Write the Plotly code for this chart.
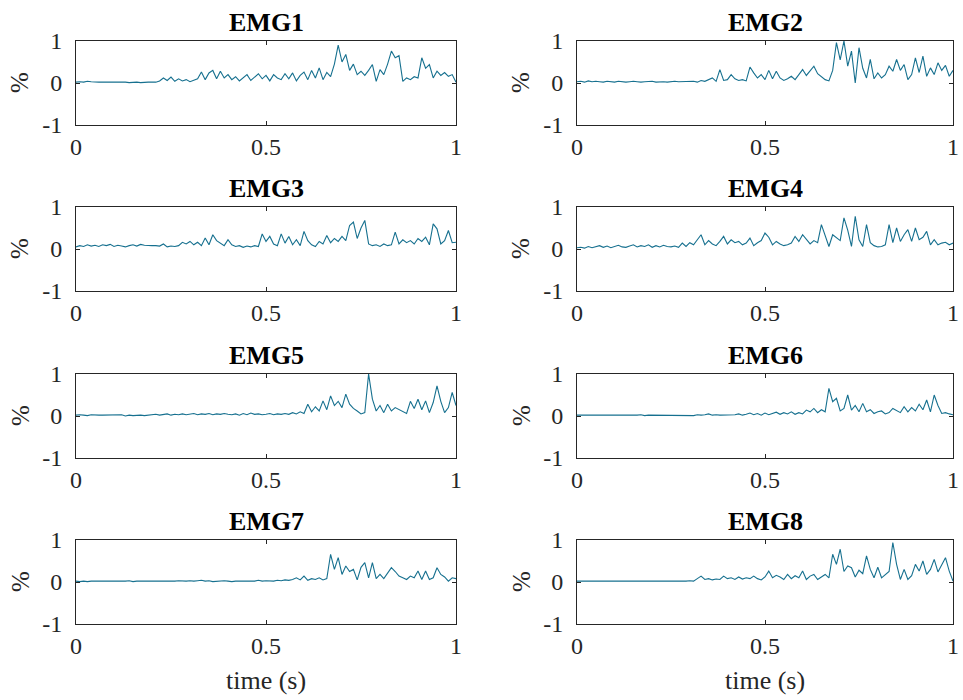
import numpy as np
import plotly.graph_objects as go

titles = ["EMG1", "EMG2", "EMG3", "EMG4", "EMG5", "EMG6", "EMG7", "EMG8"]
x_tick_vals = [0, 0.5, 1]
x_tick_text = ["0", "0.5", "1"]
y_tick_vals = [-1, 0, 1]
y_tick_text = ["-1", "0", "1"]

emg1 = [0.02,0.03,0.02,0.04,0.03,0.02,0.02,0.02,0.02,0.02,
        0.02,0.02,0.03,0.02,0.01,0.02,0.02,0.01,0.02,0.02,0.02,0.02,
        0.05,0.12,0.06,0.14,0.04,0.10,0.05,0.08,0.03,0.06,
        0.10,0.26,0.08,0.24,0.30,0.10,0.28,0.12,0.20,0.08,0.15,0.05,0.12,0.20,0.06,0.15,
        0.22,0.10,0.18,0.05,0.20,0.12,0.08,0.22,0.10,0.24,0.05,0.18,0.26,0.08,0.30,0.12,
        0.36,0.08,0.25,0.15,0.45,0.90,0.50,0.68,0.30,0.45,
        0.20,0.28,0.18,0.30,0.44,0.04,0.32,0.20,0.45,0.76,
        0.60,0.65,0.04,0.12,0.08,0.15,0.12,0.60,0.35,0.44,
        0.12,0.28,0.18,0.25,0.16,0.20,0.02]

emg2 = [0.03,0.04,0.02,0.05,0.03,0.04,0.03,0.02,0.04,0.03,0.02,0.04,0.03,0.02,0.03,0.04,
        0.03,0.02,0.03,0.03,0.04,0.02,0.03,0.03,0.02,0.03,0.04,0.03,0.03,0.04,0.03,0.04,0.02,
        0.06,0.04,0.08,0.12,0.04,0.32,0.06,0.08,0.20,0.10,0.06,0.08,0.05,
        0.38,0.24,0.12,0.20,0.08,0.30,0.10,0.28,0.12,0.06,0.10,0.16,0.08,0.20,
        0.32,0.18,0.28,0.40,0.22,0.15,0.08,0.05,0.30,0.96,
        0.55,1.00,0.40,0.76,0.00,0.84,0.35,0.12,0.56,0.10,
        0.24,0.12,0.20,0.40,0.28,0.56,0.30,0.44,0.08,0.20,
        0.60,0.25,0.64,0.16,0.36,0.20,0.48,0.30,0.42,0.16,0.30]

emg3 = [0.05,0.08,0.06,0.10,0.07,0.09,0.06,0.10,0.08,0.11,0.06,0.09,0.07,0.05,0.08,0.10,
        0.07,0.11,0.09,0.08,0.08,0.08,0.07,0.12,0.05,0.07,0.06,0.08,
        0.16,0.12,0.18,0.10,0.16,0.08,0.26,0.10,0.34,0.20,0.15,0.08,0.22,0.10,0.06,0.08,
        0.04,0.07,0.05,0.08,0.06,0.36,
        0.18,0.30,0.12,0.08,0.36,0.14,0.30,0.10,0.22,0.08,
        0.42,0.20,0.10,0.06,0.18,0.12,0.32,0.15,0.25,0.18,
        0.30,0.20,0.56,0.64,0.25,0.50,0.68,0.12,0.08,0.10,
        0.06,0.12,0.08,0.10,0.40,0.12,0.22,0.15,0.20,0.12,
        0.25,0.18,0.28,0.10,0.60,0.48,0.12,0.20,0.44,0.15,0.16]

emg4 = [0.03,0.04,0.02,0.06,0.03,0.05,0.08,0.04,0.07,0.03,0.06,0.09,0.05,0.04,0.07,0.10,
        0.05,0.08,0.06,0.10,0.04,0.08,0.05,0.09,0.06,0.05,0.07,0.04,
        0.14,0.06,0.15,0.10,0.22,0.34,0.10,0.20,0.12,0.08,0.18,0.30,0.12,0.22,0.15,0.18,
        0.10,0.14,0.26,0.08,0.15,0.20,0.38,0.28,0.10,0.18,0.12,0.08,0.10,0.14,
        0.30,0.18,0.34,0.22,0.12,0.20,0.15,0.58,0.30,0.06,
        0.34,0.28,0.20,0.74,0.45,0.06,0.78,0.22,0.06,0.58,
        0.15,0.08,0.05,0.06,0.10,0.58,0.15,0.50,0.18,0.34,
        0.46,0.18,0.50,0.22,0.28,0.42,0.10,0.22,0.10,0.14,
        0.16,0.10,0.14]

emg5 = [0.02,0.03,0.02,0.01,0.03,0.02,0.02,0.02,0.02,0.02,
        0.02,0.02,0.03,0.00,0.02,0.01,0.02,0.02,0.01,0.02,
        0.03,0.04,0.02,0.03,0.05,0.02,0.04,0.03,0.05,0.03,
        0.04,0.06,0.03,0.05,0.04,0.06,0.03,0.05,0.04,0.06,
        0.04,0.03,0.05,0.02,0.06,0.03,0.07,0.04,0.05,0.03,
        0.04,0.06,0.03,0.05,0.04,0.06,0.04,0.08,
        0.05,0.10,0.06,0.28,0.10,0.22,0.12,0.36,0.15,0.48,
        0.25,0.35,0.20,0.52,0.28,0.18,0.12,0.05,0.08,1.00,
        0.40,0.12,0.25,0.08,0.28,0.12,0.20,0.15,0.10,0.06,
        0.35,0.18,0.40,0.15,0.36,0.08,0.32,0.72,0.35,0.08,
        0.20,0.56,0.25]

emg6 = [0.02,0.02,0.02,0.01,0.02,0.02,0.02,0.02,0.01,0.02,
        0.02,0.02,0.02,0.01,0.02,0.01,0.02,0.03,0.01,0.02,
        0.02,0.02,0.02,0.02,0.02,0.02,0.02,0.02,0.02,0.01,
        0.02,0.01,0.03,0.02,0.03,0.05,0.02,0.03,0.02,0.02,
        0.02,0.02,0.03,0.05,0.02,0.04,0.07,0.03,0.06,0.02,
        0.07,0.03,0.06,0.09,0.04,0.08,0.05,0.10,0.04,0.08,
        0.05,0.14,0.10,0.18,0.08,0.15,0.10,0.66,0.34,0.42,
        0.12,0.18,0.50,0.14,0.25,0.10,0.30,0.10,0.15,0.06,
        0.10,0.12,0.05,0.08,0.18,0.12,0.08,0.22,0.10,0.20,
        0.12,0.28,0.15,0.38,0.10,0.50,0.25,0.06,0.08,0.05,
        0.03]

emg7 = [0.02,0.01,0.02,0.01,0.02,0.02,0.01,0.02,0.01,0.02,
        0.02,0.01,0.02,0.02,0.03,0.01,0.02,0.02,0.01,0.02,
        0.02,0.02,0.02,0.01,0.02,0.02,0.02,0.03,0.02,0.02,
        0.03,0.02,0.03,0.04,0.02,0.03,0.01,0.02,0.02,0.03,
        0.02,0.01,0.02,0.02,0.03,0.02,0.03,0.02,0.04,0.02,
        0.03,0.02,0.02,
        0.04,0.03,0.05,0.04,0.06,0.10,0.05,0.14,0.04,0.08,0.06,0.10,0.05,0.08,
        0.66,0.30,0.58,0.18,0.38,0.25,0.30,0.05,0.35,0.46,
        0.10,0.46,0.08,0.18,0.08,0.22,0.34,0.25,0.14,0.10,
        0.06,0.14,0.10,0.26,0.06,0.26,0.06,0.10,0.34,0.18,
        0.12,0.02,0.10,0.08]

emg8 = [0.02,0.02,0.02,0.01,0.02,0.01,0.02,0.02,0.01,0.02,
        0.02,0.02,0.02,0.02,0.02,0.01,0.02,0.02,0.01,0.02,
        0.01,0.02,0.02,0.02,0.02,0.02,0.02,0.01,0.02,0.02,
        0.03,0.02,
        0.08,0.14,0.06,0.08,0.05,0.07,0.06,0.14,0.08,0.10,
        0.06,0.12,0.07,0.10,0.08,0.14,0.08,0.05,
        0.12,0.26,0.10,0.16,0.12,0.06,0.18,0.08,0.15,0.10,
        0.26,0.06,0.14,0.18,0.06,0.12,0.18,0.10,0.66,0.42,
        0.78,0.25,0.38,0.34,0.12,0.28,0.20,0.62,0.30,0.10,
        0.35,0.10,0.18,0.25,0.94,0.42,0.06,0.30,0.06,0.15,
        0.42,0.26,0.50,0.18,0.30,0.54,0.24,0.40,0.58,0.26,
        0.02]

series = [emg1, emg2, emg3, emg4, emg5, emg6, emg7, emg8]

W, H = 963, 700
LINE_COLOR = "#16708f"
AXIS_COLOR = "#262626"
FONT = "Liberation Serif"

col_px = [(76, 456), (577, 953)]
row_px = [(41, 125), (207, 291), (374, 458), (540, 624)]

fig = go.Figure()
annotations = []
layout_axes = {}
for k, (name, y) in enumerate(zip(titles, series)):
    r, c = divmod(k, 2)
    idx = k + 1
    xa = "x" if idx == 1 else f"x{idx}"
    ya = "y" if idx == 1 else f"y{idx}"
    t = np.linspace(0, 1, len(y))
    fig.add_trace(go.Scatter(x=t, y=y, mode="lines", xaxis=xa, yaxis=ya,
                             line=dict(color=LINE_COLOR, width=1.1), showlegend=False,
                             hoverinfo="skip"))
    x0, x1 = col_px[c]
    y0, y1 = row_px[r]
    xdom = [x0 / W, x1 / W]
    ydom = [1 - y1 / H, 1 - y0 / H]
    common = dict(showline=True, linecolor=AXIS_COLOR, linewidth=1, mirror="allticks",
                  ticks="inside", ticklen=4, tickcolor=AXIS_COLOR, tickwidth=1,
                  showgrid=False, zeroline=False, automargin=False,
                  tickfont=dict(family=FONT, size=24, color="#262626"))
    xkey = "xaxis" if idx == 1 else f"xaxis{idx}"
    ykey = "yaxis" if idx == 1 else f"yaxis{idx}"
    layout_axes[xkey] = dict(domain=xdom, range=[0, 1], anchor=ya,
                             tickvals=x_tick_vals, ticktext=x_tick_text,
                             ticklabelstandoff=0, **common)
    layout_axes[ykey] = dict(domain=ydom, range=[-1, 1], anchor=xa,
                             tickvals=y_tick_vals, ticktext=y_tick_text,
                             ticklabelstandoff=8, **common)
    annotations.append(dict(text=f"<b>{name}</b>", x=(x0 + x1) / 2 / W, y=1 - y0 / H,
                            xref="paper", yref="paper", xanchor="center", yanchor="bottom",
                            yshift=2, showarrow=False,
                            font=dict(family=FONT, size=26, color="black")))
    annotations.append(dict(text="%", x=(x0 - 56) / W, y=1 - (y0 + y1) / 2 / H,
                            xref="paper", yref="paper", xanchor="center", yanchor="middle",
                            textangle=-90, showarrow=False,
                            font=dict(family=FONT, size=25, color="#262626")))
    if r == 3:
        annotations.append(dict(text="time (s)", x=(x0 + x1) / 2 / W, y=1 - 680 / H,
                                xref="paper", yref="paper", xanchor="center", yanchor="middle",
                                showarrow=False,
                                font=dict(family=FONT, size=26, color="#262626")))

fig.update_layout(width=W, height=H, margin=dict(l=0, r=0, t=0, b=0),
                  template="none",
                  paper_bgcolor="white", plot_bgcolor="white",
                  annotations=annotations, **layout_axes)
fig.write_html("out.html")
